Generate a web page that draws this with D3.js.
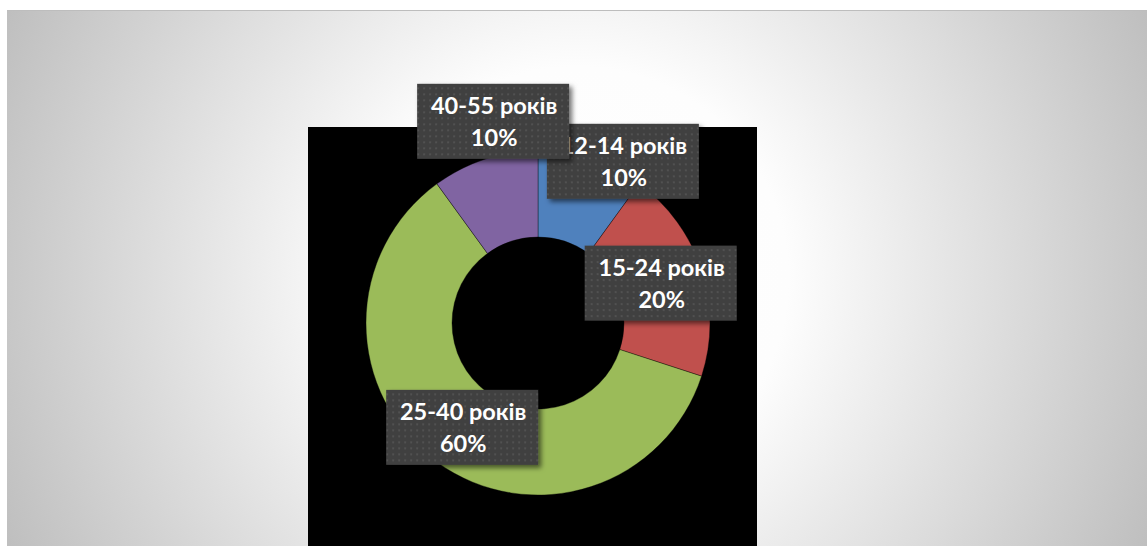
<!DOCTYPE html>
<html><head><meta charset="utf-8">
<script src="https://cdn.jsdelivr.net/npm/d3@7"></script>
<style>html,body{margin:0;padding:0;background:#fff;overflow:hidden}</style>
</head><body>
<svg id="c" width="1147" height="546"></svg>
<script>
const categories = ["12-14 років", "15-24 років", "25-40 років", "40-55 років"];
const values = [10, 20, 60, 10];
const percentLabels = ["10%", "20%", "60%", "10%"];
const colors = ["#4F81BD", "#C0504D", "#9BBB59", "#8064A2"];

const W = 1147, H = 546;
const svg = d3.select("#c");
const defs = svg.append("defs");

const rg = defs.append("radialGradient").attr("id", "bg")
  .attr("gradientUnits", "userSpaceOnUse")
  .attr("cx", 577).attr("cy", 278).attr("r", 640);
rg.append("stop").attr("offset", 0).attr("stop-color", "#ffffff");
rg.append("stop").attr("offset", 0.33).attr("stop-color", "#fdfdfd");
rg.append("stop").attr("offset", 1).attr("stop-color", "#bdbdbd");

const pat = defs.append("pattern").attr("id", "dots")
  .attr("patternUnits", "userSpaceOnUse").attr("width", 6).attr("height", 6);
pat.append("rect").attr("width", 6).attr("height", 6).attr("fill", "#404040");
pat.append("rect").attr("x", 2).attr("y", 2).attr("width", 2).attr("height", 2).attr("fill", "#515151");

const f = defs.append("filter").attr("id", "sh").attr("x", "-20%").attr("y", "-20%").attr("width", "150%").attr("height", "160%");
f.append("feDropShadow").attr("dx", 3).attr("dy", 3).attr("stdDeviation", 2.5)
  .attr("flood-color", "#000").attr("flood-opacity", 0.55);

// frame
svg.append("rect").attr("x", 7).attr("y", 10).attr("width", W - 7).attr("height", H - 10).attr("fill", "url(#bg)");
svg.append("line").attr("x1", 7).attr("x2", W).attr("y1", 10.5).attr("y2", 10.5).attr("stroke", "#bdbdbd").attr("stroke-width", 1);

// plot area
svg.append("rect").attr("x", 308).attr("y", 127).attr("width", 449).attr("height", H - 127).attr("fill", "#000");

const cx = 538, cy = 323, outerR = 172, innerR = 86;
const pie = d3.pie().sort(null).value(d => d)(values);
const arc = d3.arc().innerRadius(innerR).outerRadius(outerR);
const g = svg.append("g").attr("transform", `translate(${cx},${cy})`);
g.selectAll("path").data(pie).join("path")
  .attr("d", arc)
  .attr("fill", (d, i) => colors[i])
  .attr("stroke", "rgba(0,0,0,0.45)").attr("stroke-width", 0.8);

// labels (centroid + manual offset as in the original)
const labelArc = d3.arc().innerRadius((innerR + outerR) / 2).outerRadius((innerR + outerR) / 2);
const labelOffsets = [[45, -39], [0, 0], [0, 0], [-5, -79]];
const bw = 152, bh = 75;
const lg = g.append("g");
pie.forEach((d, i) => {
  const c = labelArc.centroid(d);
  const x = c[0] + labelOffsets[i][0], y = c[1] + labelOffsets[i][1];
  const gg = lg.append("g").attr("transform", `translate(${x},${y})`);
  gg.append("rect").attr("x", -bw / 2).attr("y", -bh / 2).attr("width", bw).attr("height", bh)
    .attr("fill", "url(#dots)").attr("filter", "url(#sh)");
  const t = gg.append("text").attr("text-anchor", "middle").attr("fill", "#fff")
    .attr("font-family", "Lato, 'Open Sans', sans-serif").attr("font-weight", "bold").attr("font-size", 23.5);
  t.append("tspan").attr("x", 1).attr("y", -7).text(categories[i]);
  t.append("tspan").attr("x", 1).attr("y", 25).text(percentLabels[i]);
});
</script>
</body></html>
